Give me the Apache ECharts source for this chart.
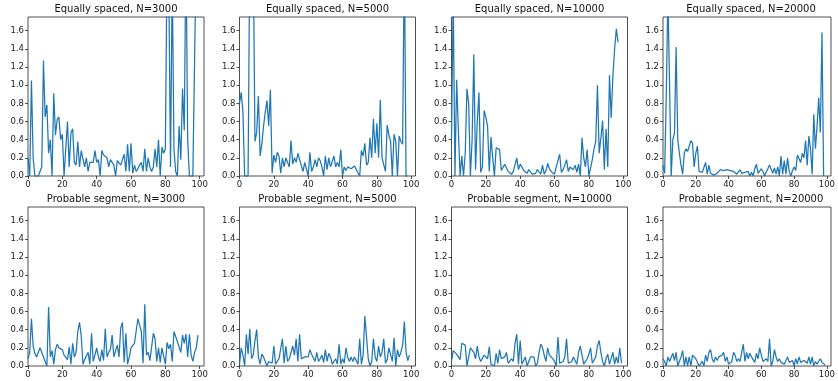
<!DOCTYPE html>
<html>
<head>
<meta charset="utf-8">
<script src="https://cdn.jsdelivr.net/npm/echarts@6/dist/echarts.min.js"></script>
<style>
    html, body { margin: 0; padding: 0; background: #fff; }
    #grid8 { width: 838px; height: 381px; }
</style>
</head>
<body>
<div id="grid8"></div>
<script>
// panel titles, row by row
let panelTitles = [
    'Equally spaced, N=3000', 'Equally spaced, N=5000', 'Equally spaced, N=10000', 'Equally spaced, N=20000',
    'Probable segment, N=3000', 'Probable segment, N=5000', 'Probable segment, N=10000', 'Probable segment, N=20000'
];
let xTicks = [0, 20, 40, 60, 80, 100];
let yTicks = [0, 0.2, 0.4, 0.6, 0.8, 1.0, 1.2, 1.4, 1.6];

let eq3000 = [0.2, 0.0, 1.05, 0.2, 0, 0, 0, 0, 0.1, 1.27,
    0.65, 0.78, 0.25, 0.4, 0.0, 0.91, 0.45, 0.62, 0.65, 0.4,
    0.46, 0.0, 0.3, 0.6, 0.1, 0.47, 0.52, 0.15, 0.12, 0.38,
    0.1, 0.28, 0.27, 0.1, 0.2, 0.05, 0.15, 0.14, 0.15, 0.28,
    0.15, 0.18, 0.0, 0.28, 0.23, 0.22, 0.2, 0.1, 0.18, 0.16,
    0.12, 0.0, 0.17, 0.16, 0.12, 0.1, 0.24, 0.05, 0.35, 0.05,
    0.36, 0.03, 0.12, 0.05, 0.08, 0.12, 0.15, 0.05, 0.3, 0.05,
    0.2, 0.1, 0.05, 0.1, 0.3, 0.1, 0.4, 0.0, 0.32, 0.25,
    0.3, 2.4, 2.1, 0.1, 2.2, 0.3, 0.05, 0.0, 0.55, 0.18,
    0.96, 0.5, 2.5, 0.4, 0, 0, 0, 0, 2.5];
let eq5000 = [0.8, 0.92, 0.7, 0.0, 0, 0, 2.5, 2.5, 2.5, 0.38,
    0.48, 0.88, 0.22, 0.35, 0.55, 0.7, 0.83, 0.55, 0.95, 0.03,
    0.23, 0.15, 0.26, 0.22, 0.03, 0.2, 0.1, 0.2, 0.15, 0.1,
    0.39, 0.13, 0.2, 0.15, 0.25, 0.18, 0.18, 0.05, 0.15, 0.13,
    0.0, 0.26, 0.05, 0.1, 0.18, 0.1, 0.2, 0.17, 0.1, 0.0,
    0.22, 0.07, 0.2, 0.1, 0.08, 0.22, 0.1, 0.15, 0.1, 0.29,
    0.0, 0.1, 0.06, 0.1, 0.1, 0.08, 0.1, 0.11, 0.07, 0.05,
    0.0, 0.28, 0.22, 0.36, 0.12, 0.15, 0.42, 0.2, 0.63, 0.25,
    0.58, 0.2, 0.84, 0.2, 0.18, 0.05, 0.56, 0.45, 0.38, 0.0,
    0.46, 0.38, 0.0, 0.44, 0.38, 0.35, 2.5, 0.0, 0.0];
let eq10000 = [0.4, 2.0, 0.0, 1.06, 0.5, 0.0, 0.22, 0.0, 0.25, 0.96,
    0.8, 0.0, 0.4, 1.34, 0.07, 0.6, 0.92, 0.04, 0.1, 0.72,
    0.65, 0.55, 0.05, 0.43, 0.2, 0.0, 0.31, 0.3, 0.29, 0.06,
    0.05, 0.13, 0.13, 0.05, 0.03, 0.02, 0.05, 0.03, 0.2, 0.07,
    0.13, 0.1, 0.06, 0.05, 0.03, 0.07, 0.08, 0.02, 0.04, 0.03,
    0.07, 0.05, 0.02, 0.12, 0.02, 0.06, 0.14, 0.08, 0.05, 0.07,
    0.02, 0.1, 0.12, 0.24, 0.04, 0.07, 0.12, 0.18, 0.05, 0.1,
    0.08, 0.07, 0.12, 0.04, 0.13, 0.0, 0.42, 0.2, 0.1, 0.29,
    0.0, 0.0, 0.18, 0.3, 0.38, 1.0, 0.25, 0.42, 0.61, 0.07,
    0.52, 0.1, 1.11, 0.64, 1.1, 1.4, 1.62, 1.47];
let eq20000 = [0.12, 0.03, 0.9, 2.0, 2.0, 0.0, 0.4, 0.47, 1.42, 0.4,
    0.25, 0.12, 0.02, 0.25, 0.3, 0.27, 0.28, 0.39, 0.36, 0.1,
    0.25, 0.33, 0.05, 0.04, 0.04, 0.06, 0.15, 0.02, 0.12, 0.03,
    0.05, 0.01, 0.0, 0.03, 0.05, 0.07, 0.05, 0.06, 0.04, 0.07,
    0.08, 0.06, 0.08, 0.05, 0.07, 0.02, 0.04, 0.07, 0.03, 0.05,
    0.04, 0.05, 0.05, 0.0, 0.04, 0.0, 0.08, 0.13, 0.03, 0.03,
    0.08, 0.05, 0.0, 0.04, 0.06, 0.12, 0.1, 0.03, 0.09, 0.02,
    0.1, 0.0, 0.22, 0.02, 0.17, 0.02, 0.2, 0.05, 0.0, 0.06,
    0.1, 0.06, 0.23, 0.24, 0.15, 0.25, 0.2, 0.39, 0.12, 0.44,
    0.3, 0.02, 0.68, 0.3, 0.55, 0.86, 0.48, 1.58, 0.0];

let pr3000 = [0.08, 0.15, 0.52, 0.22, 0.14, 0.1, 0.12, 0.2, 0.18, 0.1,
    0.05, 0.0, 0.65, 0.1, 0.17, 0.02, 0.18, 0.24, 0.2, 0.18,
    0.18, 0.12, 0.1, 0.07, 0.21, 0.02, 0.25, 0.1, 0.15, 0.38,
    0.48, 0.33, 0.02, 0.07, 0.05, 0.15, 0.02, 0.36, 0.05, 0.12,
    0.2, 0.1, 0.05, 0.18, 0.06, 0.41, 0.1, 0.15, 0.18, 0.34,
    0.1, 0.08, 0.23, 0.1, 0.42, 0.48, 0.04, 0.36, 0.02, 0.1,
    0.2, 0.2, 0.25, 0.27, 0.52, 0.45, 0.38, 0.03, 0.68, 0.12,
    0.15, 0.06, 0.05, 0.36, 0.3, 0.05, 0.2, 0.04, 0.2, 0.22,
    0.02, 0.26, 0.19, 0.24, 0.05, 0.38, 0.4, 0.27, 0.26, 0.15,
    0.34, 0.25, 0.35, 0.1, 0.35, 0.12, 0.05, 0.15, 0.2, 0.34];
let pr5000 = [0.02, 0.2, 0.12, 0.0, 0.35, 0.13, 0.41, 0.08, 0.12, 0.28,
    0.4, 0.1, 0.02, 0.13, 0.1, 0.1, 0.0, 0.05, 0.05, 0.03,
    0.22, 0.02, 0.05, 0.08, 0.07, 0.3, 0.03, 0.22, 0.05, 0.08,
    0.1, 0.22, 0.12, 0.3, 0.05, 0.35, 0.08, 0.08, 0.1, 0.08,
    0.1, 0.18, 0.13, 0.15, 0.05, 0.15, 0.05, 0.08, 0.12, 0.04,
    0.18, 0.05, 0.14, 0.1, 0.02, 0.0, 0.08, 0.02, 0.24, 0.02,
    0.08, 0.03, 0.2, 0.1, 0.05, 0.1, 0.05, 0.1, 0.1, 0.02,
    0.3, 0.02, 0.12, 0.55, 0.55, 0.08, 0.0, 0.05, 0.3, 0.1,
    0.05, 0.22, 0.1, 0.15, 0.3, 0.03, 0.07, 0.2, 0.22, 0.05,
    0.31, 0.0, 0.18, 0.1, 0.15, 0.23, 0.49, 0.15, 0.06, 0.12];
let pr10000 = [0.05, 0.17, 0.15, 0.13, 0.12, 0.07, 0.25, 0.23, 0.23, 0.0,
    0.1, 0.2, 0.18, 0.15, 0.08, 0.22, 0.1, 0.05, 0.04, 0.12,
    0.12, 0.08, 0.21, 0.02, 0.03, 0.0, 0.14, 0.03, 0.18, 0.08,
    0.1, 0.1, 0.15, 0.03, 0.03, 0.08, 0.05, 0.25, 0.35, 0.02,
    0.28, 0.02, 0.03, 0.1, 0.0, 0.05, 0.1, 0.12, 0.1, 0.0,
    0.03, 0.15, 0.24, 0.2, 0.12, 0.05, 0.2, 0.12, 0.12, 0.08,
    0.05, 0.0, 0.32, 0.03, 0.03, 0.05, 0.1, 0.3, 0.03, 0.03,
    0.05, 0.1, 0.12, 0.02, 0.15, 0.22, 0.23, 0.02, 0.0, 0.08,
    0.13, 0.2, 0.03, 0.05, 0.1, 0.22, 0.28, 0.15, 0.05, 0.0,
    0.08, 0.13, 0.02, 0.0, 0.15, 0.02, 0.1, 0.03, 0.2, 0.03];
let pr20000 = [0.08, 0.05, 0.0, 0.1, 0.05, 0.06, 0.14, 0.06, 0.15, 0.0,
    0.05, 0.1, 0.17, 0.0, 0.1, 0.0, 0.1, 0.0, 0.12, 0.1,
    0.08, 0.06, 0.0, 0.01, 0.05, 0.0, 0.12, 0.05, 0.15, 0.18,
    0.08, 0.04, 0.1, 0.06, 0.1, 0.08, 0.12, 0.15, 0.05, 0.1,
    0.02, 0.02, 0.05, 0.15, 0.12, 0.05, 0.08, 0.05, 0.04, 0.24,
    0.05, 0.15, 0.08, 0.14, 0.1, 0.12, 0.04, 0.14, 0.08, 0.2,
    0.12, 0.05, 0.06, 0.08, 0.05, 0.3, 0.0, 0.05, 0.18, 0.1,
    0.05, 0.08, 0.04, 0.06, 0.02, 0.04, 0.1, 0.04, 0.05, 0.06,
    0.0, 0.08, 0.02, 0.1, 0.04, 0.05, 0.06, 0.04, 0.03, 0.1,
    0.02, 0.1, 0.0, 0.05, 0.02, 0.0, 0.08, 0.04, 0.03, 0.01];

let panelData = [eq3000, eq5000, eq10000, eq20000, pr3000, pr5000, pr10000, pr20000];

function grid8() {
    let chart = echarts.init(document.getElementById('grid8'));

    let lefts = [28, 239.5, 451.5, 663];
    let tops = [17, 207];
    let w = 176, h = 159;
    let ink = '#222';
    let font = 'DejaVu Sans';

    let grids = [], xAxes = [], yAxes = [], titles = [], series = [];

    for (let k = 0; k < 8; k++) {
        let col = k % 4, row = Math.floor(k / 4);

        grids.push({
            left: lefts[col], top: tops[row], width: w, height: h,
            show: true, borderColor: ink, borderWidth: 0.8,
            backgroundColor: 'transparent'
        });

        // title sits a few px above each box
        titles.push({
            text: panelTitles[k],
            left: lefts[col] + w / 2,
            top: tops[row] - 13,
            textAlign: 'center',
            padding: 0,
            textStyle: {fontFamily: font, fontSize: 10, fontWeight: 'normal', color: '#111'}
        });

        xAxes.push({
            type: 'value', gridIndex: k, min: 0, max: 102.5,
            axisLine: {show: false},
            splitLine: {show: false},
            axisTick: {show: true, length: 3, customValues: xTicks, lineStyle: {color: ink, width: 0.8}},
            axisLabel: {
                customValues: xTicks, margin: 4,
                fontFamily: font, fontSize: 8.5, color: ink
            }
        });

        yAxes.push({
            type: 'value', gridIndex: k, min: 0, max: 1.75,
            axisLine: {show: false},
            splitLine: {show: false},
            axisTick: {show: true, length: 3, customValues: yTicks, lineStyle: {color: ink, width: 0.8}},
            axisLabel: {
                customValues: yTicks, margin: 4,
                fontFamily: font, fontSize: 8.5, color: ink,
                formatter: function (v) { return v.toFixed(1); }
            }
        });

        series.push({
            type: 'line',
            xAxisIndex: k, yAxisIndex: k,
            data: panelData[k].map(function (v, i) { return [i, v]; }),
            showSymbol: false,
            clip: true,
            lineStyle: {color: '#1f77b4', width: 1.25},
            itemStyle: {color: '#1f77b4'}
        });
    }

    let option = {
        animation: false,
        backgroundColor: '#fff',
        title: titles,
        grid: grids,
        xAxis: xAxes,
        yAxis: yAxes,
        series: series
    };

    chart.setOption(option);
}

grid8();
</script>
</body>
</html>
